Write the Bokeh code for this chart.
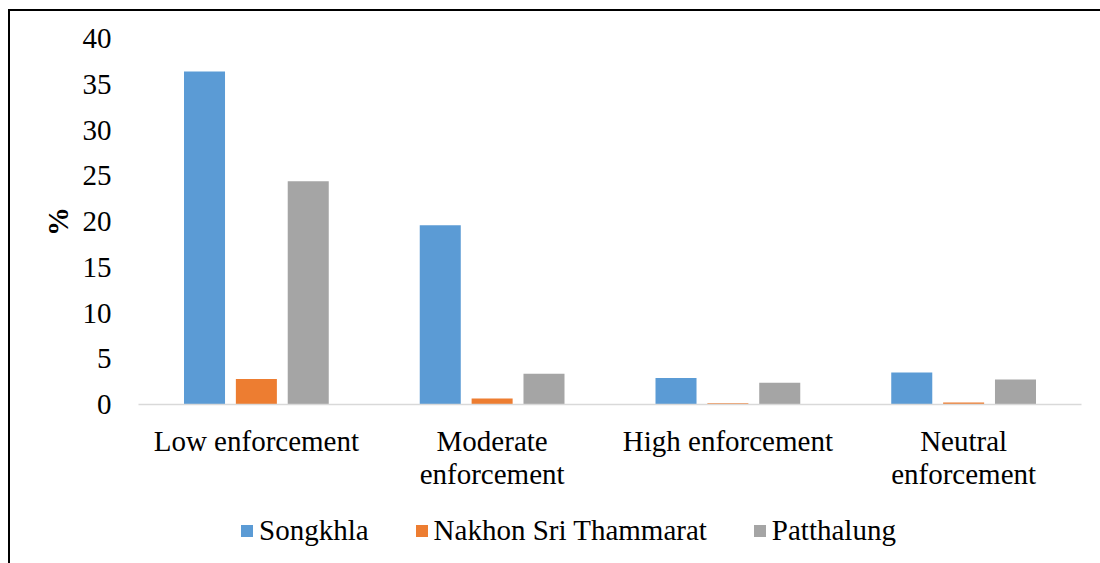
from bokeh.plotting import figure
from bokeh.layouts import column
from bokeh.models import (ColumnDataSource, FactorRange, Range1d, Legend, LegendItem,
                          FixedTicker, CategoricalAxis, CustomJSTickFormatter)
from bokeh.transform import dodge
from bokeh.embed import file_html
from bokeh.resources import INLINE

# Enforcement perception by province (%)
categories = ["Low enforcement", "Moderate enforcement", "High enforcement", "Neutral enforcement"]
label_line1 = ["Low enforcement", "Moderate", "High enforcement", "Neutral"]
label_line2 = ["", "enforcement", "", "enforcement"]
series_names = ["Songkhla", "Nakhon Sri Thammarat", "Patthalung"]
songkhla = [36.4, 19.6, 2.9, 3.5]
nakhon_sri_thammarat = [2.8, 0.66, 0.15, 0.22]
patthalung = [24.4, 3.36, 2.37, 2.73]
colors = ["#5B9BD5", "#ED7D31", "#A5A5A5"]
y_ticks = [0, 5, 10, 15, 20, 25, 30, 35, 40]

FONT = "Liberation Serif"

source = ColumnDataSource(dict(
    cat=categories,
    s0=songkhla,
    s1=nakhon_sri_thammarat,
    s2=patthalung,
))

p = figure(
    x_range=FactorRange(*categories),
    y_range=Range1d(0, 40),
    frame_width=943, frame_height=366,
    min_border_left=128, min_border_right=19,
    min_border_top=27, min_border_bottom=100,
    output_backend="svg", toolbar_location=None,
)
p.outline_line_color = None
p.xgrid.grid_line_color = None
p.ygrid.grid_line_color = None

offsets = [-0.22, 0.0, 0.22]
for i, col in enumerate(colors):
    p.vbar(x=dodge("cat", offsets[i], range=p.x_range), top=f"s{i}",
           width=0.174, source=source, fill_color=col, line_color=None)


def row_formatter(lines):
    return CustomJSTickFormatter(
        args=dict(names=dict(zip(categories, lines))),
        code="const t = names[tick]; return (t === undefined) ? tick : t;",
    )


# category axis: first text row
p.xaxis.axis_line_color = "#D9D9D9"
p.xaxis.axis_line_width = 1.3
p.xaxis.major_tick_line_color = None
p.xaxis.minor_tick_line_color = None
p.xaxis.major_label_text_font = FONT
p.xaxis.major_label_text_font_size = "29px"
p.xaxis.major_label_text_color = "#000000"
p.xaxis.major_label_standoff = 14
p.xaxis.formatter = row_formatter(label_line1)

# second text row for the wrapped category names
x2 = CategoricalAxis(
    axis_line_color=None, major_tick_line_color=None, minor_tick_line_color=None,
    major_label_text_font=FONT, major_label_text_font_size="29px",
    major_label_text_color="#000000", major_label_standoff=-8,
    formatter=row_formatter(label_line2),
)
p.add_layout(x2, "below")

p.yaxis.axis_line_color = None
p.yaxis.major_tick_line_color = None
p.yaxis.minor_tick_line_color = None
p.yaxis.ticker = FixedTicker(ticks=y_ticks)
p.yaxis.major_label_text_font = FONT
p.yaxis.major_label_text_font_size = "29px"
p.yaxis.major_label_text_color = "#000000"
p.yaxis.major_label_standoff = 21
p.yaxis.axis_label = "%"
p.yaxis.axis_label_text_font = FONT
p.yaxis.axis_label_text_font_size = "29px"
p.yaxis.axis_label_text_font_style = "bold"
p.yaxis.axis_label_text_color = "#000000"
p.yaxis.axis_label_standoff = 6

# legend strip under the chart; its bars sit outside the visible range
leg_fig = figure(
    x_range=FactorRange(*categories),
    y_range=Range1d(100, 101),
    frame_width=1090, frame_height=59,
    min_border=0,
    x_axis_type=None, y_axis_type=None,
    output_backend="svg", toolbar_location=None,
)
leg_fig.outline_line_color = None
leg_fig.xgrid.grid_line_color = None
leg_fig.ygrid.grid_line_color = None

leg_renderers = []
for i, col in enumerate(colors):
    r = leg_fig.vbar(x="cat", top=f"s{i}", width=0.174, source=source,
                     fill_color=col, line_color=None)
    leg_renderers.append(r)

legend = Legend(
    items=[LegendItem(label=n, renderers=[r]) for n, r in zip(series_names, leg_renderers)],
    orientation="horizontal",
    location=(229, 16),
    glyph_width=15, glyph_height=15,
    label_standoff=5, spacing=45,
    label_text_font=FONT, label_text_font_size="29px", label_text_color="#000000",
    border_line_color=None, background_fill_alpha=0,
    padding=0, margin=0,
)
leg_fig.add_layout(legend, "center")

page = column(p, leg_fig, spacing=0)
page.styles = {
    "margin-left": "8px", "margin-top": "9px",
    "border-left": "2px solid #000", "border-top": "2px solid #000",
}

open("out.html", "w").write(file_html(page, INLINE))
